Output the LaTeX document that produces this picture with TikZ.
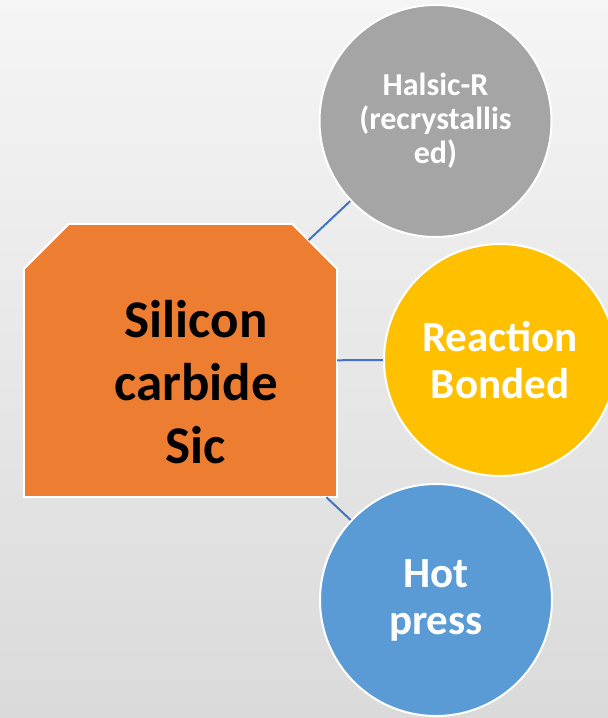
\documentclass[tikz,border=0pt]{standalone}
\usepackage{fontspec}
\setmainfont{Carlito}
\usetikzlibrary{intersections}

\definecolor{bgtop}{RGB}{245,245,245}
\definecolor{bgbottom}{RGB}{218,218,218}
\definecolor{sicorange}{HTML}{ED7D31}
\definecolor{halsicgray}{HTML}{A5A5A5}
\definecolor{reactionyellow}{HTML}{FFC000}
\definecolor{hotblue}{HTML}{5B9BD5}
\definecolor{linkblue}{HTML}{4472C4}

\begin{document}
\begin{tikzpicture}[x=1pt, y=-1pt,
    every part/.style={draw=white, line width=2pt, align=center, inner sep=0pt,
      text=white, font=\bfseries},
    part circle/.style={circle, minimum size=232pt},
    link/.style={draw=linkblue, line width=2pt}]

  % background
  \useasboundingbox (0,0) rectangle (608,718);
  \shade [top color=bgtop, bottom color=bgbottom] (0,0) rectangle (608,718);

  % main block, top corners cut
  \node [rectangle, inner sep=0pt, minimum width=313pt, minimum height=273pt] (sic) at (180.5,360.5) {};
  \filldraw [every part, fill=sicorange, name path=sic-outline]
    (sic.south west) -- ([yshift=-45pt]sic.north west) -- ([xshift=45pt]sic.north west)
    -- ([xshift=-45pt]sic.north east) -- ([yshift=-45pt]sic.north east) -- (sic.south east) -- cycle;
  \node [align=center, font=\bfseries\fontsize{53}{63}\selectfont] (sic-text) at (196,382)
    {Silicon\\carbide\\Sic};

  % kinds
  \node [every part, part circle, fill=halsicgray, font=\bfseries\fontsize{32}{34}\selectfont]
    (halsic) at (435.5,121) {Halsic-R\\(recrystallis\\ed)};
  \node [every part, part circle, fill=reactionyellow, font=\bfseries\fontsize{43}{47}\selectfont]
    (reaction) at (500,360) {Reaction\\Bonded};
  \node [every part, part circle, fill=hotblue, font=\bfseries\fontsize{43}{47}\selectfont]
    (hot) at (436,600) {Hot\\press};

  \foreach \n in {halsic, reaction, hot} {
    \path [name path=ray-\n] (sic.center) -- (\n.center);
    \draw [link, name intersections={of=sic-outline and ray-\n}] (intersection-1) -- (\n);
  }

\end{tikzpicture}
\end{document}
